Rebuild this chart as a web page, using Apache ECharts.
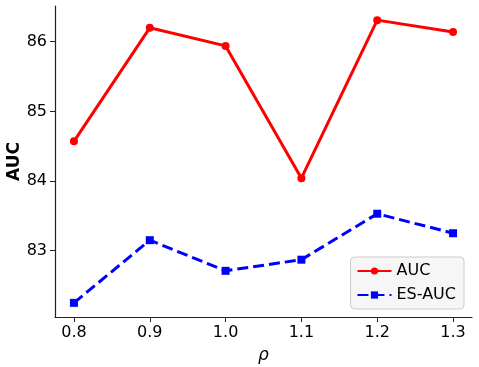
<!DOCTYPE html>
<html>
<head>
<meta charset="utf-8">
<script src="https://cdn.jsdelivr.net/npm/echarts@6/dist/echarts.min.js"></script>
<style>
  html, body { margin: 0; padding: 0; background: #fff; }
  #chart { width: 479px; height: 367px; }
</style>
</head>
<body>
<div id="chart"></div>
<script>
  // rho values on the x axis
  const rho = [0.8, 0.9, 1.0, 1.1, 1.2, 1.3];
  const aucValues = [84.57, 86.20, 85.94, 84.04, 86.31, 86.14];
  const esAucValues = [82.25, 83.15, 82.71, 82.87, 83.53, 83.25];
  const xTicks = [0.8, 0.9, 1.0, 1.1, 1.2, 1.3];
  const yTicks = [83, 84, 85, 86];

  const font = 'DejaVu Sans';
  let chart = echarts.init(document.getElementById('chart'));

  let option = {
    animation: false,
    grid: { left: 55, right: 7, top: 6, bottom: 50, containLabel: false, outerBoundsMode: 'none' },
    legend: {
      right: 15,
      bottom: 58,
      orient: 'vertical',
      itemWidth: 34,
      itemHeight: 9,
      itemGap: 8,
      padding: [6, 8, 6, 6],
      backgroundColor: '#f6f6f6',
      borderColor: '#cccccc',
      borderWidth: 1,
      borderRadius: 4,
      textStyle: { fontFamily: font, fontSize: 16, color: '#000' },
      data: ['AUC', 'ES-AUC']
    },
    xAxis: {
      type: 'value',
      min: 0.775,
      max: 1.325,
      name: 'ρ',
      nameLocation: 'middle',
      nameGap: 30,
      nameMoveOverlap: false,
      nameTextStyle: { fontFamily: font, fontSize: 17, fontStyle: 'italic', color: '#000' },
      axisLine: { lineStyle: { color: '#222', width: 1.2 } },
      axisTick: { customValues: xTicks, length: 5, lineStyle: { color: '#222' } },
      axisLabel: {
        customValues: xTicks,
        fontFamily: font, fontSize: 16, color: '#000', margin: 8,
        formatter: function (v) { return v.toFixed(1); }
      },
      splitLine: { show: false }
    },
    yAxis: {
      type: 'value',
      min: 82.047,
      max: 86.513,
      name: 'AUC',
      nameLocation: 'middle',
      nameGap: 32,
      nameMoveOverlap: false,
      nameTextStyle: { fontFamily: font, fontSize: 17, fontWeight: 'bold', color: '#000' },
      axisLine: { show: true, lineStyle: { color: '#222', width: 1.2 } },
      axisTick: { show: true, customValues: yTicks, length: 5, lineStyle: { color: '#222' } },
      axisLabel: { customValues: yTicks, fontFamily: font, fontSize: 16, color: '#000', margin: 8 },
      splitLine: { show: false }
    },
    series: [
      {
        name: 'AUC',
        type: 'line',
        data: rho.map((x, i) => [x, aucValues[i]]),
        symbol: 'circle',
        symbolSize: 8,
        itemStyle: { color: '#ff0000' },
        lineStyle: { color: '#ff0000', width: 3 }
      },
      {
        name: 'ES-AUC',
        type: 'line',
        data: rho.map((x, i) => [x, esAucValues[i]]),
        symbol: 'rect',
        symbolSize: 8,
        itemStyle: { color: '#0000ff' },
        lineStyle: { color: '#0000ff', width: 3, type: [11, 5] }
      }
    ]
  };
  chart.setOption(option);
</script>
</body>
</html>
